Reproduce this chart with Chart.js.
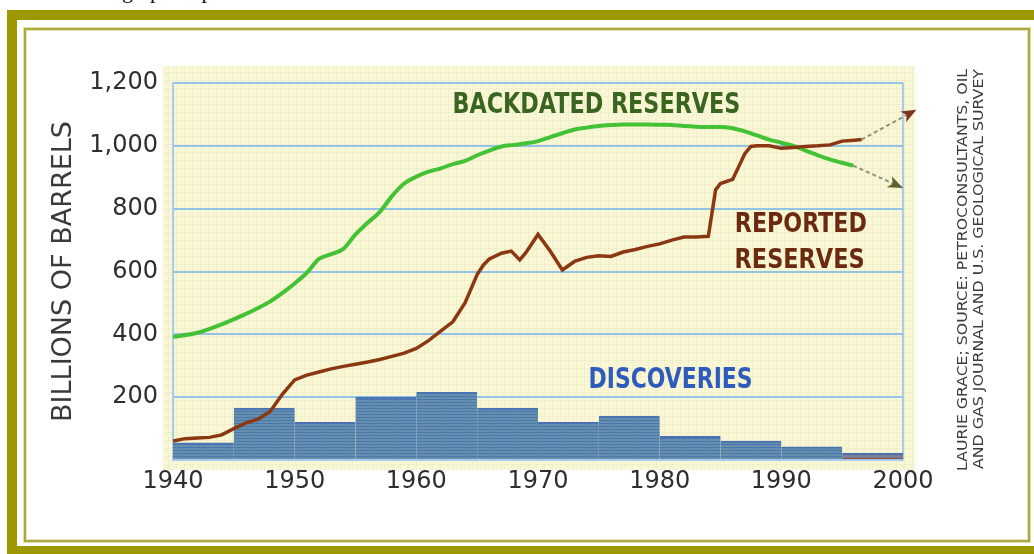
<!DOCTYPE html>
<html><head><meta charset="utf-8">
<script src="https://cdn.jsdelivr.net/npm/chart.js"></script>
<style>
html,body{margin:0;padding:0;background:#fff;}
#wrap{position:relative;width:1034px;height:554px;overflow:hidden;background:#fff;}
#outer{position:absolute;left:7px;top:10px;width:1100px;height:546px;box-sizing:border-box;border:10px solid #9c9900;}
#inner{position:absolute;left:24px;top:28px;width:1006px;height:514px;box-sizing:border-box;border:2px solid #aca841;box-shadow:0 0 0 1px #e2dfa8, inset 0 0 0 1px #e8e6b8;}
#frag{position:absolute;left:122px;top:-20px;font:22px/22px 'Liberation Serif',serif;color:#111;white-space:nowrap;}
canvas{position:absolute;left:0;top:0;}
</style></head>
<body><div id="wrap">
<div id="frag">graph of proven</div>
<div id="outer"></div><div id="inner"></div>
<canvas id="c" width="1034" height="554"></canvas>
</div>
<script>
// ---- data ----
const backdatedYears  = [1940,1942,1944,1946,1948,1949,1950,1951,1952,1953,1954,1955,1956,1957,1958,1959,1960,1961,1962,1963,1964,1965,1966,1967,1968,1969,1970,1971,1972,1973,1974,1975,1976,1977,1978,1979,1980,1981,1982,1983,1984,1985,1986,1987,1988,1989,1990,1991,1992,1993,1994,1995,1995.9];
const backdatedValues = [392,405,432,465,505,532,562,596,640,655,672,718,755,790,840,880,902,918,928,942,952,970,985,998,1003,1008,1015,1028,1040,1052,1058,1063,1066,1068,1068,1068,1067,1066,1063,1061,1060,1060,1056,1046,1033,1020,1010,1000,985,970,957,946,937];
const reportedYears   = [1940,1941,1942,1943,1944,1945,1946,1947,1948,1949,1950,1951,1952,1953,1954,1955,1956,1957,1958,1959,1960,1961,1962,1963,1964,1965,1965.5,1966,1967,1967.8,1968.5,1969,1970,1971,1972,1973,1974,1975,1976,1977,1978,1979,1980,1981,1982,1983,1984,1984.6,1985,1986,1987,1987.5,1988,1989,1990,1991,1992,1993,1994,1995,1996,1996.6];
const reportedValues  = [60,68,70,72,80,100,118,130,155,210,255,270,280,290,298,305,312,320,330,340,355,380,410,440,500,590,620,640,658,665,637,660,718,665,605,632,645,650,648,662,670,680,688,700,710,710,712,860,880,893,975,998,1000,1000,992,995,998,1000,1003,1015,1018,1020];
const backdatedTrendYears  = [1995.9, 2000];
const backdatedTrendValues = [937, 866];
const reportedTrendYears   = [1996.6, 2001.1];
const reportedTrendValues  = [1020, 1115];
const discoveryPeriods = [1942.5,1947.5,1952.5,1957.5,1962.5,1967.5,1972.5,1977.5,1982.5,1987.5,1992.5,1997.5];
const discoveryValues  = [55,165,120,200,215,165,120,140,75,60,42,22];
const xTicks = [1940,1950,1960,1970,1980,1990,2000];
const xTickLabels = ['1940','1950','1960','1970','1980','1990','2000'];
const yTicks = [0,200,400,600,800,1000,1200];
const yTickLabels = ['','200','400','600','800','1,000','1,200'];

const pts = (xs, ys) => xs.map((x, i) => ({x, y: ys[i]}));

// ---- patterns ----
function makePattern(draw, w, h) {
  const c = document.createElement('canvas'); c.width = w; c.height = h;
  draw(c.getContext('2d'));
  return c.getContext('2d').createPattern(c, 'repeat');
}
const barPattern = makePattern(g => {
  g.fillStyle = '#6690b0'; g.fillRect(0,0,6,6);
  g.fillStyle = '#4a72ac'; g.fillRect(0,0,6,1); g.fillRect(0,3,6,1);
  g.fillStyle = '#5a8ca6'; g.fillRect(2,0,1,6);
}, 6, 6);
const lastBarPattern = makePattern(g => {
  g.fillStyle = '#7a8094'; g.fillRect(0,0,6,6);
  g.fillStyle = '#8a4a3c'; g.fillRect(0,2,6,1);
  g.fillStyle = '#56699a'; g.fillRect(0,4,6,1);
}, 6, 6);
const paperPattern = makePattern(g => {
  g.fillStyle = '#faf7d4'; g.fillRect(0,0,8,8);
  g.fillStyle = 'rgba(200,205,170,0.18)'; g.fillRect(0,0,8,1); g.fillRect(0,0,1,8);
  g.fillStyle = 'rgba(230,170,190,0.35)'; g.fillRect(4,5,1,1);
  g.fillStyle = 'rgba(150,200,230,0.35)'; g.fillRect(6,2,1,1);
}, 8, 8);

// ---- helpers ----
function fitText(ctx, text, cx, cy, w, size, family, weight, color, rot) {
  ctx.save();
  ctx.font = weight + ' ' + size + 'px ' + family;
  const m = ctx.measureText(text).width;
  ctx.translate(cx, cy);
  if (rot) ctx.rotate(rot);
  ctx.scale(w / m, 1);
  ctx.textAlign = 'center';
  ctx.textBaseline = 'alphabetic';
  ctx.fillStyle = color;
  ctx.fillText(text, 0, size * 0.365);
  ctx.restore();
}

const paperPlugin = {
  id: 'paper',
  beforeDraw(chart) {
    const {ctx, chartArea: a} = chart;
    ctx.save();
    ctx.fillStyle = paperPattern;
    ctx.fillRect(a.left - 10, a.top - 17, a.right - a.left + 22, a.bottom - a.top + 27);
    ctx.restore();
  }
};

const arrowPlugin = {
  id: 'arrows',
  afterDatasetsDraw(chart) {
    const ctx = chart.ctx;
    chart.data.datasets.forEach((ds, i) => {
      if (!ds.arrowColor) return;
      const d = chart.getDatasetMeta(i).data;
      const p1 = d[d.length - 2], p2 = d[d.length - 1];
      const ang = Math.atan2(p2.y - p1.y, p2.x - p1.x);
      ctx.save();
      ctx.translate(p2.x, p2.y); ctx.rotate(ang);
      ctx.fillStyle = ds.arrowColor;
      ctx.beginPath(); ctx.moveTo(0, 0); ctx.lineTo(-15, -6); ctx.lineTo(-11, 0); ctx.lineTo(-15, 6); ctx.closePath();
      ctx.fill();
      ctx.restore();
    });
  }
};

const labelPlugin = {
  id: 'labels',
  afterDraw(chart) {
    const {ctx, scales: {x, y}} = chart;
    const fam = "'DejaVu Sans Condensed','DejaVu Sans',sans-serif";
    const put = (t, yr, v, w, size, color) =>
      fitText(ctx, t, x.getPixelForValue(yr), y.getPixelForValue(v), w, size, fam, 'bold', color, 0);
    put('BACKDATED RESERVES', 1974.8, 1138, 288, 29, '#3a6520');
    put('REPORTED', 1991.6, 757, 132, 27, '#6b2a10');
    put('RESERVES', 1991.5, 643, 130, 27, '#6b2a10');
    put('DISCOVERIES', 1980.9, 263, 164, 28, '#2f5cbc');
    // source credit, rotated
    fitText(ctx, 'LAURIE GRACE; SOURCE: PETROCONSULTANTS, OIL', 962, 270, 402, 14, fam, 'normal', '#3c3c3c', -Math.PI/2);
    fitText(ctx, 'AND GAS JOURNAL AND U.S. GEOLOGICAL SURVEY', 978, 269, 400, 14, fam, 'normal', '#3c3c3c', -Math.PI/2);
  }
};

new Chart(document.getElementById('c'), {
  type: 'line',
  data: {
    datasets: [
      { type: 'line', label: 'Backdated reserves', data: pts(backdatedYears, backdatedValues),
        borderColor: '#44c236', borderWidth: 4, pointRadius: 0, cubicInterpolationMode: 'monotone', order: 1 },
      { type: 'line', label: 'Reported reserves', data: pts(reportedYears, reportedValues),
        borderColor: '#8b3812', borderWidth: 3.5, pointRadius: 0, tension: 0, order: 0 },
      { type: 'line', label: 'Backdated trend', data: pts(backdatedTrendYears, backdatedTrendValues),
        borderColor: '#8f9278', borderWidth: 2, borderDash: [4, 3], pointRadius: 0, clip: false, order: 1,
        arrowColor: '#5f6330' },
      { type: 'line', label: 'Reported trend', data: pts(reportedTrendYears, reportedTrendValues),
        borderColor: '#8f9278', borderWidth: 2, borderDash: [4, 3], pointRadius: 0, clip: false, order: 0,
        arrowColor: '#7c3220' },
      { type: 'bar', label: 'Discoveries', data: pts(discoveryPeriods, discoveryValues),
        backgroundColor: discoveryValues.map((v, i) => i === discoveryValues.length - 1 ? lastBarPattern : barPattern),
        borderColor: '#4a72b4', borderWidth: {top: 2, left: 0, right: 0, bottom: 0}, borderSkipped: false,
        barPercentage: 1, categoryPercentage: 1, order: 5 }
    ]
  },
  options: {
    responsive: false, animation: false,
    layout: { padding: { left: 44, right: 131, top: 83, bottom: 54 } },
    plugins: { legend: { display: false }, tooltip: { enabled: false } },
    scales: {
      x: {
        type: 'linear', min: 1940, max: 2000, offset: false,
        afterFit: s => { s.height = 40; },
        afterBuildTicks: s => { s.ticks = xTicks.map(v => ({value: v})); },
        ticks: { padding: 7, color: '#2e2e2e', font: { family: "'DejaVu Sans',sans-serif", size: 24 },
                 callback: v => xTickLabels[xTicks.indexOf(v)], maxRotation: 0 },
        grid: { offset: false, drawTicks: false, lineWidth: 2,
                color: c => c.tick && c.tick.value === 2000 ? '#a6cdf0' : 'rgba(0,0,0,0)' },
        border: { display: true, color: '#a6cdf0', width: 2 }
      },
      y: {
        min: 0, max: 1200,
        afterFit: s => { s.width = 129; },
        afterBuildTicks: s => { s.ticks = yTicks.map(v => ({value: v})); },
        ticks: { padding: 15, color: '#2e2e2e', font: { family: "'DejaVu Sans',sans-serif", size: 24 },
                 callback: v => yTickLabels[yTicks.indexOf(v)] },
        grid: { drawTicks: false, color: '#93c4e8', lineWidth: 2 },
        border: { display: true, color: '#a6cdf0', width: 2 },
        title: { display: true, text: 'BILLIONS OF BARRELS', color: '#3a3a3a',
                 font: { family: "'DejaVu Sans',sans-serif", size: 27 } }
      }
    }
  },
  plugins: [paperPlugin, arrowPlugin, labelPlugin]
});
</script>
</body></html>
